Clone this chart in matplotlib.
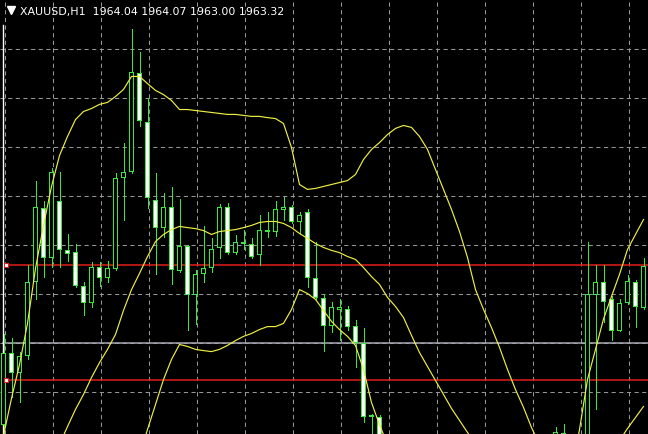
import numpy as np
import matplotlib
matplotlib.use("Agg")
import matplotlib.pyplot as plt

nan = np.nan

symbol = "XAUUSD,H1"
last_ohlc = ["1964.04", "1964.07", "1963.00", "1963.32"]

# H1 bars, index 0 = leftmost bar on screen; nan = bar is below the visible window
opens = [1956.69, 1959.63, 1958.78, 1959.47, 1962.53, 1965.55, 1963.51, 1965.80, 1963.80, 1963.75,
         1962.33, 1961.67, 1963.14, 1962.69, 1963.06, 1966.77, 1966.98, 1971.06, 1969.06, 1965.84,
         1964.73, 1965.59, 1962.94, 1963.96, 1961.96, 1962.82, 1963.10, 1963.88, 1965.59, 1963.71,
         1964.16, 1964.08, 1963.63, 1964.65, 1964.57, 1965.43, 1965.59, 1964.94, 1965.35, 1962.69,
         1961.84, 1960.73, 1961.35, 1961.39, 1960.73, 1960.00, 1956.98, 1957.02] + [nan] * 21 + \
        [1955.90, 1955.90, nan, nan,
         1954.00, 1961.96, 1962.49, 1961.80, 1960.53, 1961.67, 1962.53, 1961.43]
highs = [1960.37, 1960.24, 1959.67, 1963.22, 1966.65, 1965.80, 1967.18, 1967.02, 1964.45, 1964.08,
         1962.53, 1963.31, 1963.31, 1963.35, 1966.94, 1968.20, 1972.82, 1971.88, 1970.04, 1966.94,
         1966.16, 1966.37, 1965.88, 1964.04, 1963.02, 1964.78, 1964.29, 1965.71, 1965.75, 1964.41,
         1964.65, 1964.29, 1965.26, 1965.35, 1965.80, 1965.96, 1965.67, 1965.35, 1965.47, 1964.16,
         1962.00, 1961.71, 1961.80, 1961.55, 1960.94, 1960.65, 1957.14, 1957.10] + [nan] * 21 + \
        [1956.61, 1956.73, nan, nan,
         1964.16, 1963.22, 1963.22, 1961.92, 1961.80, 1962.78, 1962.61, 1963.47]
lows = [1956.08, 1957.80, 1957.63, 1959.35, 1961.80, 1962.73, 1963.14, 1963.14, 1963.35, 1962.29,
        1961.18, 1961.51, 1962.33, 1962.49, 1963.02, 1965.06, 1966.94, 1968.86, 1965.55, 1962.82,
        1964.33, 1962.41, 1962.90, 1960.57, 1960.78, 1962.49, 1962.90, 1963.47, 1963.67, 1963.67,
        1963.84, 1963.51, 1963.22, 1964.33, 1964.37, 1965.06, 1964.90, 1964.53, 1962.29, 1961.80,
        1959.71, 1960.45, 1960.16, 1960.57, 1959.06, 1956.78, 1955.88, 1954.86] + [nan] * 21 + \
       [1955.50, 1955.50, nan, nan,
        1953.50, 1957.31, 1960.86, 1960.16, 1960.49, 1961.63, 1960.69, 1961.39]
closes = [1959.63, 1958.78, 1959.47, 1962.53, 1965.59, 1963.47, 1966.98, 1963.80, 1963.67, 1962.33,
          1961.67, 1963.14, 1962.69, 1963.10, 1966.77, 1966.98, 1971.10, 1969.10, 1965.92, 1964.73,
          1965.59, 1963.02, 1963.96, 1961.96, 1962.82, 1963.10, 1963.84, 1965.59, 1963.71, 1964.16,
          1964.08, 1963.55, 1964.65, 1964.57, 1965.47, 1965.59, 1964.94, 1965.26, 1962.69, 1961.84,
          1960.73, 1961.47, 1961.47, 1960.69, 1960.00, 1956.98, 1957.06, 1955.27] + [nan] * 21 + \
         [1956.37, 1956.33, nan, nan,
          1962.00, 1962.53, 1961.71, 1960.53, 1961.67, 1962.57, 1961.51, 1963.18]

# bollinger bands
bb_upper = [1956.24, 1957.76, 1959.14, 1960.82, 1963.06, 1964.82, 1966.41, 1967.67, 1968.45, 1969.14,
            1969.47, 1969.59, 1969.76, 1969.84, 1970.08, 1970.37, 1970.90, 1970.90, 1970.61, 1970.33,
            1970.16, 1969.92, 1969.55, 1969.55, 1969.51, 1969.47, 1969.43, 1969.39, 1969.35, 1969.35,
            1969.31, 1969.27, 1969.27, 1969.22, 1969.18, 1968.98, 1968.00, 1966.49, 1966.29, 1966.33,
            1966.41, 1966.49, 1966.57, 1966.65, 1966.90, 1967.51, 1967.92, 1968.20, 1968.53, 1968.78,
            1968.90, 1968.82, 1968.45, 1967.92, 1967.10, 1966.29, 1965.47, 1964.57, 1963.51, 1962.20,
            1961.39, 1960.65, 1959.84, 1958.94, 1958.12, 1957.39, 1956.57, 1955.88, nan, nan,
            nan, 1954.65, 1956.49, 1958.53, 1959.76, 1961.00, 1961.92, 1962.82, 1963.84, 1964.45,
            1965.06]
bb_middle = [nan] * 7 + \
            [1955.88, 1956.61, 1957.31,
             1957.92, 1958.61, 1959.22, 1959.76, 1960.37, 1961.35, 1962.20, 1962.86, 1963.55, 1964.16,
             1964.45, 1964.65, 1964.78, 1964.73, 1964.69, 1964.61, 1964.45, 1964.57, 1964.61, 1964.65,
             1964.73, 1964.82, 1964.94, 1964.98, 1964.98, 1964.90, 1964.73, 1964.49, 1964.29, 1964.08,
             1963.92, 1963.80, 1963.71, 1963.55, 1963.43, 1963.10, 1962.73, 1962.41, 1961.88, 1961.51,
             1961.06, 1960.33, 1959.63, 1959.06, 1958.49, 1957.92, 1957.35, 1956.86, 1956.37, 1955.88] + \
            [nan] * 17 + [1956.04, 1956.53, 1956.98, 1957.43]
bb_lower = [nan] * 17 + \
           [1955.47, 1956.49, 1957.51, 1958.53, 1959.35, 1959.96, 1959.88, 1959.76, 1959.71, 1959.67,
            1959.76, 1959.92, 1960.12, 1960.29, 1960.41, 1960.57, 1960.69, 1960.69, 1960.82, 1961.39,
            1962.20, 1962.04, 1961.80, 1961.35, 1960.90, 1960.57, 1960.29, 1959.92, 1958.94, 1957.59,
            1956.69, 1955.88] + [nan] * 32

red_levels = [1963.22, 1958.53]
gray_level = 1960.00

o = np.array(opens)
h = np.array(highs)
l = np.array(lows)
c = np.array(closes)
idx = np.arange(len(o))

plt.rcParams['lines.scale_dashes'] = False

fig = plt.figure(figsize=(6.48, 4.35), dpi=100, facecolor='black')
ax = fig.add_axes([0, 0, 1, 1], facecolor='black')

# price window, shifted half a pixel so round prices land on pixel rows
onepx = 2.0 / 49
ymin = 1956.2857 + 0.5 * onepx
ymax = ymin + 435 * onepx

green = '#3ce63c'
bull = c >= o
body_lo = np.minimum(o, c)
body_h = np.maximum(np.abs(c - o), 2 * onepx)

# wick, then a solid green body with a white (down) or black (up) core
ax.vlines(idx, l, h, color=green, lw=0.72, zorder=3, antialiased=False)
ax.bar(idx, body_h, bottom=body_lo, width=5 / 8, color=green, lw=0, zorder=4, antialiased=False)
core_h = body_h - 2 * onepx
ax.bar(idx[bull], core_h[bull], bottom=body_lo[bull] + onepx, width=3 / 8,
       color='black', lw=0, zorder=5, antialiased=False)
ax.bar(idx[~bull], core_h[~bull], bottom=body_lo[~bull] + onepx, width=3 / 8,
       color='white', lw=0, zorder=5, antialiased=False)

yellow = '#eeee44'
for band in [bb_upper, bb_middle, bb_lower]:
    ax.plot(idx, band, color=yellow, lw=0.85, zorder=6)

for lvl in red_levels:
    ax.axhline(lvl, xmin=0.008, color='#e41c1c', lw=1.1, zorder=2)
    ax.plot(0.25, lvl, marker='s', ms=3.5, mfc='white', mec='#e41c1c', mew=0.8, zorder=7)
ax.axhline(gray_level, xmin=0.004, color='#a8a8b4', lw=1.1, zorder=2)
# white vertical line object at the left edge
ax.axvline(-0.125, ymax=0.94, color='white', lw=1.0, zorder=2)

ax.set_xlim(-0.4375, 80.5625)
ax.set_ylim(ymin, ymax)
ax.set_xticks(np.arange(0, 81, 6) + 0.125)
ax.set_yticks(np.arange(1958, 1974, 2))
ax.grid(True, color='#969696', lw=0.75, ls=(0, (3, 2.5)), zorder=1)
ax.tick_params(length=0, labelbottom=False, labelleft=False)
for s in ax.spines.values():
    s.set_visible(False)

ax.plot(0.0170, 0.9745, marker='v', ms=6, color='white', mec='white', transform=ax.transAxes, clip_on=False)
fig.text(20 / 648, 1 - 12 / 435, symbol + "  " + " ".join(last_ohlc), color='white',
         fontsize=7.9, family='DejaVu Sans', va='center', ha='left')

fig.savefig('out.png', dpi=100, facecolor='black')
